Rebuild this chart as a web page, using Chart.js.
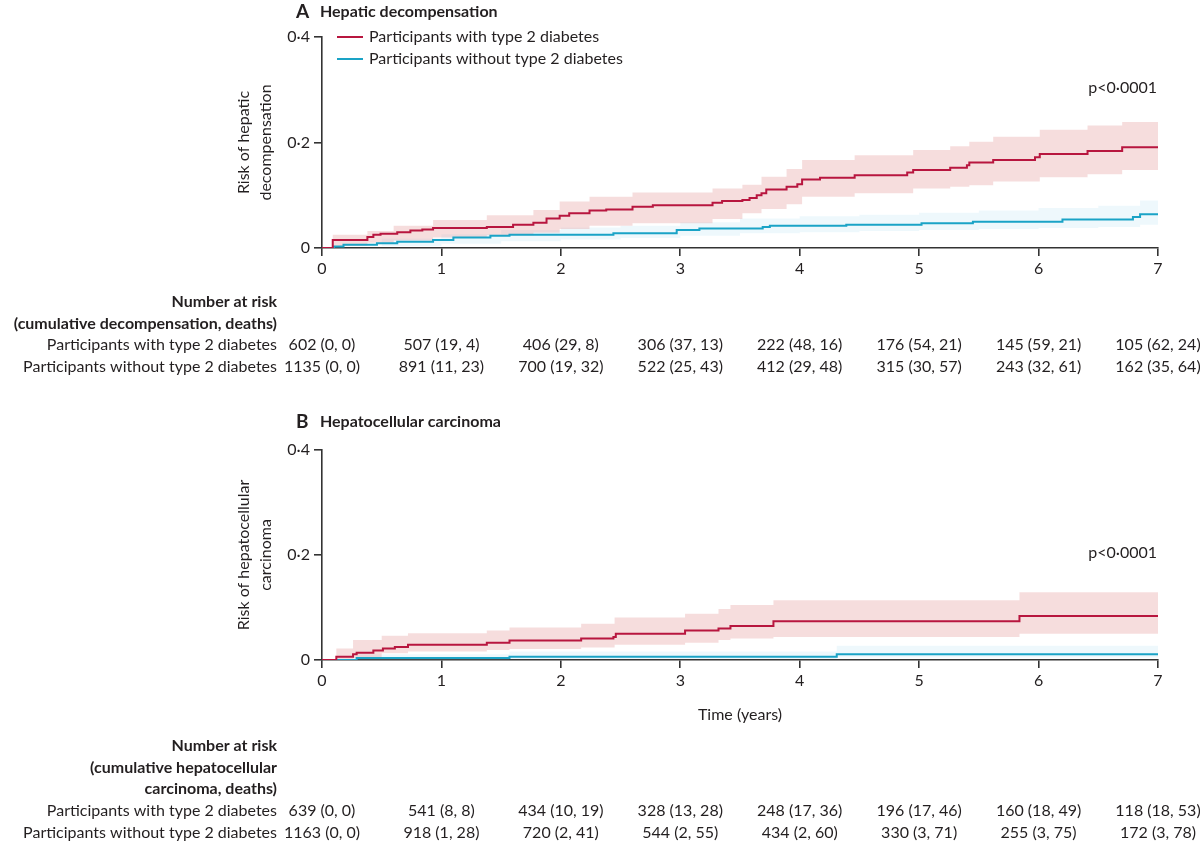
<!DOCTYPE html>
<html>
<head>
<meta charset="utf-8">
<script src="https://cdn.jsdelivr.net/npm/chart.js@4.4.1/dist/chart.umd.min.js"></script>
<style>
  html, body { margin: 0; padding: 0; background: #ffffff; }
  canvas { display: block; }
</style>
</head>
<body>
<canvas id="panelA" width="1200" height="400"></canvas>
<canvas id="panelB" width="1200" height="444"></canvas>
<script>
// ---------------- DATA ----------------
const yearTicks = [0, 1, 2, 3, 4, 5, 6, 7];
const seriesNames = ['Participants with type 2 diabetes', 'Participants without type 2 diabetes'];

// Panel A: hepatic decompensation
const tA_with = [0, 0.09, 0.38, 0.43, 0.49, 0.63, 0.74, 0.84, 0.93, 1.38, 1.6, 1.77, 1.88, 1.99, 2.07, 2.24, 2.38, 2.6, 2.77, 3.27, 3.35, 3.52, 3.58, 3.64, 3.68, 3.72, 3.89, 3.98, 4.02, 4.17, 4.46, 4.90, 4.95, 5.26, 5.40, 5.42, 5.62, 5.97, 6.01, 6.41, 6.70, 7.0];
const rA_with = [0, 0.015, 0.021, 0.025, 0.027, 0.030, 0.033, 0.035, 0.038, 0.040, 0.044, 0.048, 0.056, 0.061, 0.066, 0.071, 0.073, 0.078, 0.081, 0.086, 0.089, 0.091, 0.095, 0.100, 0.104, 0.111, 0.116, 0.121, 0.130, 0.133, 0.138, 0.143, 0.148, 0.152, 0.157, 0.162, 0.167, 0.172, 0.178, 0.184, 0.191, 0.191];
const bandA_with_t = [0, 0.09, 0.38, 0.6, 0.93, 1.38, 1.77, 1.99, 2.24, 2.6, 3.27, 3.52, 3.68, 3.89, 4.02, 4.46, 4.95, 5.26, 5.42, 5.62, 6.01, 6.41, 6.70, 7.0];
const bandA_with_hi = [0.002, 0.025, 0.032, 0.042, 0.053, 0.062, 0.072, 0.088, 0.097, 0.105, 0.113, 0.120, 0.135, 0.150, 0.167, 0.176, 0.186, 0.193, 0.2015, 0.211, 0.224, 0.232, 0.239, 0.239];
const bandA_with_lo = [0, 0.004, 0.010, 0.014, 0.020, 0.024, 0.029, 0.036, 0.042, 0.047, 0.055, 0.066, 0.074, 0.083, 0.097, 0.104, 0.113, 0.116, 0.119, 0.126, 0.134, 0.140, 0.148, 0.148];

const tA_without = [0, 0.1, 0.18, 0.46, 0.63, 0.93, 1.10, 1.41, 1.57, 2.44, 2.97, 3.16, 3.69, 3.75, 4.39, 5.02, 5.45, 6.20, 6.79, 6.85, 7.0];
const rA_without = [0, 0.003, 0.006, 0.009, 0.012, 0.015, 0.020, 0.023, 0.025, 0.028, 0.034, 0.037, 0.040, 0.042, 0.044, 0.047, 0.050, 0.054, 0.059, 0.064, 0.064];
const bandA_without_t = [0, 0.5, 1.0, 1.5, 2.0, 2.5, 3.0, 3.5, 4.0, 4.5, 5.0, 5.5, 6.0, 6.5, 6.85, 7.0];
const bandA_without_hi = [0, 0.018, 0.026, 0.034, 0.039, 0.042, 0.049, 0.056, 0.060, 0.063, 0.067, 0.071, 0.076, 0.080, 0.090, 0.090];
const bandA_without_lo = [0, 0.004, 0.008, 0.013, 0.016, 0.019, 0.023, 0.028, 0.030, 0.032, 0.034, 0.036, 0.038, 0.040, 0.044, 0.044];

// Panel A number at risk (cumulative decompensation, deaths)
const nA_with = [602, 507, 406, 306, 222, 176, 145, 105];
const evA_with = [0, 19, 29, 37, 48, 54, 59, 62];
const dA_with = [0, 4, 8, 13, 16, 21, 21, 24];
const nA_without = [1135, 891, 700, 522, 412, 315, 243, 162];
const evA_without = [0, 11, 19, 25, 29, 30, 32, 35];
const dA_without = [0, 23, 32, 43, 48, 57, 61, 64];

// Panel B: hepatocellular carcinoma
const tB_with = [0, 0.12, 0.26, 0.29, 0.43, 0.51, 0.61, 0.72, 1.38, 1.57, 2.17, 2.44, 2.46, 3.04, 3.32, 3.42, 3.78, 5.84, 7.0];
const rB_with = [0, 0.006, 0.011, 0.014, 0.018, 0.022, 0.025, 0.029, 0.033, 0.037, 0.041, 0.044, 0.050, 0.056, 0.060, 0.065, 0.074, 0.084, 0.084];
const bandB_with_t = [0, 0.12, 0.26, 0.5, 0.72, 1.38, 1.57, 2.17, 2.45, 3.04, 3.32, 3.42, 3.78, 5.84, 7.0];
const bandB_with_hi = [0, 0.022, 0.038, 0.046, 0.051, 0.056, 0.062, 0.069, 0.081, 0.088, 0.097, 0.105, 0.114, 0.129, 0.129];
const bandB_with_lo = [0, 0, 0.003, 0.013, 0.016, 0.019, 0.021, 0.024, 0.029, 0.033, 0.038, 0.041, 0.044, 0.050, 0.050];

const tB_without = [0, 0.29, 1.57, 4.31, 7.0];
const rB_without = [0, 0.004, 0.006, 0.011, 0.011];
const bandB_without_t = [0, 0.29, 1.57, 4.31, 7.0];
const bandB_without_hi = [0, 0.011, 0.016, 0.027, 0.027];
const bandB_without_lo = [0, 0.001, 0.002, 0.005, 0.005];

// Panel B number at risk (cumulative hepatocellular carcinoma, deaths)
const nB_with = [639, 541, 434, 328, 248, 196, 160, 118];
const evB_with = [0, 8, 10, 13, 17, 17, 18, 18];
const dB_with = [0, 8, 19, 28, 36, 46, 49, 53];
const nB_without = [1163, 918, 720, 544, 434, 330, 255, 172];
const evB_without = [0, 1, 2, 2, 2, 3, 3, 3];
const dB_without = [0, 28, 41, 55, 60, 71, 75, 78];

// ---------------- STYLE ----------------
const FONT = 'Lato, "Open Sans", "DejaVu Sans", sans-serif';
const TEXT = '#231f20';
const AXIS = '#333333';
const RED = '#b8163f';
const BLUE = '#1aa3c6';
const RED_BAND = 'rgba(228,150,150,0.32)';
const BLUE_BAND = 'rgba(170,220,238,0.20)';

function pts(t, v) { return t.map((x, i) => ({ x: x, y: v[i] })); }
function fmtTick(v) { return v === 0 ? '0' : v.toFixed(1).replace('.', '\u00b7'); }

function makePanel(id, cfg) {
  const canvas = document.getElementById(id);
  const H = canvas.height;
  const yAxisW = 60, xAxisH = 40;
  const textPlugin = {
    id: 'panelText_' + id,
    afterDraw(chart) {
      const ctx = chart.ctx;
      const xs = chart.scales.x;
      const area = chart.chartArea;
      ctx.save();
      ctx.fillStyle = TEXT;
      ctx.textBaseline = 'middle';
      // panel letter + title
      ctx.textAlign = 'left';
      ctx.font = 'bold 19px ' + FONT;
      ctx.fillText(cfg.letter, 296, cfg.titleY);
      ctx.font = 'bold 16px ' + FONT;
      ctx.fillText(cfg.title, 320, cfg.titleY);
      // y axis title (rotated, two lines)
      ctx.font = '16px ' + FONT;
      ctx.textAlign = 'center';
      const cy = (area.top + area.bottom) / 2;
      cfg.yTitle.forEach((line, i) => {
        ctx.save();
        ctx.translate(244 + i * 22, cy);
        ctx.rotate(-Math.PI / 2);
        ctx.fillText(line, 0, 0);
        ctx.restore();
      });
      // p value
      ctx.textAlign = 'right';
      ctx.fillText('p<0\u00b70001', 1157, cfg.pY);
      // legend
      if (cfg.legend) {
        const colors = [RED, BLUE];
        seriesNames.forEach((name, i) => {
          const ly = area.top + i * 22;
          ctx.strokeStyle = colors[i];
          ctx.lineWidth = 2;
          ctx.beginPath();
          ctx.moveTo(337, ly);
          ctx.lineTo(363, ly);
          ctx.stroke();
          ctx.textAlign = 'left';
          ctx.fillText(name, 369, ly);
        });
      }
      // x axis title
      if (cfg.xTitle) {
        ctx.textAlign = 'center';
        ctx.fillText(cfg.xTitle, (area.left + area.right) / 2, cfg.xTitleY);
      }
      // number at risk table
      ctx.textAlign = 'right';
      ctx.font = 'bold 16px ' + FONT;
      cfg.tableHead.forEach((line, i) => {
        ctx.fillText(line, 277, cfg.tableY + i * 21.5);
      });
      ctx.font = '16px ' + FONT;
      const rowY0 = cfg.tableY + cfg.tableHead.length * 21.5;
      cfg.rows.forEach((row, r) => {
        const y = rowY0 + r * 22;
        ctx.textAlign = 'right';
        ctx.fillText(seriesNames[r], 277, y);
        ctx.textAlign = 'center';
        yearTicks.forEach((yr, k) => {
          const txt = row.n[k] + ' (' + row.ev[k] + ', ' + row.d[k] + ')';
          ctx.fillText(txt, xs.getPixelForValue(yr), y);
        });
      });
      ctx.restore();
    }
  };

  const lineDs = (data, color) => ({
    data: data, borderColor: color, borderWidth: 2, pointRadius: 0,
    stepped: 'before', fill: false, tension: 0
  });
  const bandHi = (data, color) => ({
    data: data, borderWidth: 0, borderColor: 'rgba(0,0,0,0)', backgroundColor: color,
    pointRadius: 0, stepped: 'before', fill: '+1', tension: 0
  });
  const bandLo = (data) => ({
    data: data, borderWidth: 0, borderColor: 'rgba(0,0,0,0)', pointRadius: 0,
    stepped: 'before', fill: false, tension: 0
  });

  return new Chart(canvas, {
    type: 'line',
    data: {
      datasets: [
        lineDs(pts(cfg.withT, cfg.withR), RED),
        lineDs(pts(cfg.withoutT, cfg.withoutR), BLUE),
        bandHi(pts(cfg.bandWithT, cfg.bandWithHi), RED_BAND),
        bandLo(pts(cfg.bandWithT, cfg.bandWithLo)),
        bandHi(pts(cfg.bandWithoutT, cfg.bandWithoutHi), BLUE_BAND),
        bandLo(pts(cfg.bandWithoutT, cfg.bandWithoutLo))
      ]
    },
    options: {
      responsive: false,
      animation: false,
      devicePixelRatio: 1,
      layout: { padding: { top: cfg.areaTop, left: 322 - yAxisW, right: 1200 - 1158, bottom: H - cfg.areaBottom - xAxisH } },
      plugins: { legend: { display: false }, tooltip: { enabled: false }, filler: { propagate: false } },
      scales: {
        x: {
          type: 'linear', min: 0, max: 7,
          afterFit(s) { s.height = xAxisH; },
          afterBuildTicks(s) { s.ticks = yearTicks.map(v => ({ value: v })); },
          border: { display: true, color: AXIS, width: 1.6 },
          grid: { display: true, drawOnChartArea: false, drawTicks: true, tickLength: 8, color: AXIS, lineWidth: 1.6 },
          ticks: { color: TEXT, font: { family: FONT, size: 16 }, padding: 3, maxRotation: 0, autoSkip: false }
        },
        y: {
          type: 'linear', min: 0, max: 0.4,
          afterFit(s) { s.width = yAxisW; },
          afterBuildTicks(s) { s.ticks = cfg.yTicks.map(v => ({ value: v })); },
          border: { display: true, color: AXIS, width: 1.6 },
          grid: { display: true, drawOnChartArea: false, drawTicks: true, tickLength: 8, color: AXIS, lineWidth: 1.6 },
          ticks: { color: TEXT, font: { family: FONT, size: 16 }, padding: 4, callback: fmtTick }
        }
      }
    },
    plugins: [textPlugin]
  });
}

const yTicksRisk = [0, 0.2, 0.4];

makePanel('panelA', {
  letter: 'A', title: 'Hepatic decompensation', titleY: 12,
  areaTop: 37, areaBottom: 248,
  yTicks: yTicksRisk,
  yTitle: ['Risk of hepatic', 'decompensation'],
  pY: 88, legend: true,
  withT: tA_with, withR: rA_with, withoutT: tA_without, withoutR: rA_without,
  bandWithT: bandA_with_t, bandWithHi: bandA_with_hi, bandWithLo: bandA_with_lo,
  bandWithoutT: bandA_without_t, bandWithoutHi: bandA_without_hi, bandWithoutLo: bandA_without_lo,
  tableY: 302,
  tableHead: ['Number at risk', '(cumulative decompensation, deaths)'],
  rows: [{ n: nA_with, ev: evA_with, d: dA_with }, { n: nA_without, ev: evA_without, d: dA_without }]
});

makePanel('panelB', {
  letter: 'B', title: 'Hepatocellular carcinoma', titleY: 22,
  areaTop: 50, areaBottom: 260,
  yTicks: yTicksRisk,
  yTitle: ['Risk of hepatocellular', 'carcinoma'],
  pY: 153, legend: false,
  xTitle: 'Time (years)', xTitleY: 315,
  withT: tB_with, withR: rB_with, withoutT: tB_without, withoutR: rB_without,
  bandWithT: bandB_with_t, bandWithHi: bandB_with_hi, bandWithLo: bandB_with_lo,
  bandWithoutT: bandB_without_t, bandWithoutHi: bandB_without_hi, bandWithoutLo: bandB_without_lo,
  tableY: 346,
  tableHead: ['Number at risk', '(cumulative hepatocellular', 'carcinoma, deaths)'],
  rows: [{ n: nB_with, ev: evB_with, d: dB_with }, { n: nB_without, ev: evB_without, d: dB_without }]
});
</script>
</body>
</html>
